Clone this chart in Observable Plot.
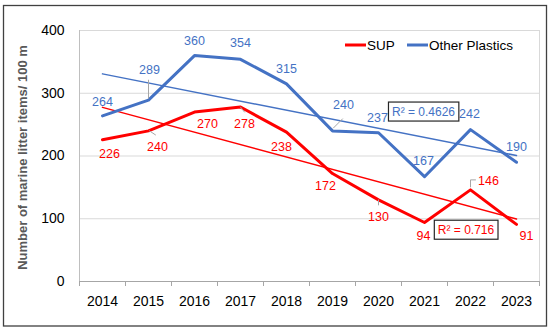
<!DOCTYPE html>
<html><head><meta charset="utf-8">
<script src="https://cdn.jsdelivr.net/npm/d3@7"></script>
<script src="https://cdn.jsdelivr.net/npm/@observablehq/plot@0.6"></script>
<style>
body{margin:0;background:#fff;}
#chart{position:relative;width:550px;height:331px;}
</style>
</head><body><div id="chart"></div>
<script>
// ---- data ----
const years = [2014, 2015, 2016, 2017, 2018, 2019, 2020, 2021, 2022, 2023];
const sup = [226, 240, 270, 278, 238, 172, 130, 94, 146, 91];
const otherPlastics = [264, 289, 360, 354, 315, 240, 237, 167, 242, 190];
const seriesNames = ["SUP", "Other Plastics"];
const seriesColors = ["#FF0000", "#4472C4"];
const yTicks = [0, 100, 200, 300, 400];
const r2Texts = ["R² = 0.716", "R² = 0.4626"];
const yLabel = "Number of marine litter items/ 100 m";

// ---- layout / styling (pixels) ----
const W = 550, H = 331;
const M = {top: 30, right: 11, bottom: 50, left: 79};
const pxPerYear = (W - M.left - M.right) / years.length;
const pxPerUnit = (H - M.top - M.bottom) / 400;
// label offsets [dx, dy] in px relative to each point
const supLabelOff = [[7,14],[9,16],[13,12],[4,17],[-5,15],[-7,12],[0,17],[-1,13],[18,-9],[10,12]];
const otherLabelOff = [[0,-14],[1,-30],[0,-15],[0,-16],[0,-15],[11,-26],[-1,-15],[-1,-16],[-1,-16],[0,-15]];
// leader lines: series index, point index, polyline offsets in px
const leaders = [
  {s: 1, i: 1, pts: [[0,-2],[0,-20]]},
  {s: 1, i: 5, pts: [[1,-3],[10,-12]]},
  {s: 0, i: 1, pts: [[1,0],[7,4]]},
  {s: 0, i: 3, pts: [[0,0],[4,5]]},
  {s: 0, i: 6, pts: [[0,0],[0,5]]},
  {s: 0, i: 8, pts: [[0,-3],[0,-10],[5,-10]]}
];
// R² annotation anchors: series index, point index, px offset from that point
const r2Anchor = [{s: 0, i: 8, off: [-4.5, 40]}, {s: 1, i: 7, off: [-1, -65]}];

const seriesValues = [sup, otherPlastics];
const rows = seriesValues.flatMap((vals, s) => vals.map((v, i) => ({
  year: years[i], value: v, series: seriesNames[s],
  off: (s === 0 ? supLabelOff : otherLabelOff)[i]
})));
const ox = (yr, px) => yr + px / pxPerYear;
const oy = (v, py) => v - py / pxPerUnit;

const leaderPts = leaders.flatMap((l, k) => l.pts.map(p => ({
  k, x: ox(years[l.i], p[0]), y: oy(seriesValues[l.s][l.i], p[1])
})));
const r2Rows = r2Anchor.map((a, k) => ({
  text: r2Texts[k], series: seriesNames[a.s],
  x: ox(years[a.i], a.off[0]), y: oy(seriesValues[a.s][a.i], a.off[1])
}));

const bounds = d3.range(years.length + 1).map(i => years[0] - 0.5 + i);

const font = "Liberation Sans, Arial, sans-serif";
const plot = Plot.plot({
  width: W, height: H,
  marginTop: M.top, marginRight: M.right, marginBottom: M.bottom, marginLeft: M.left,
  style: {fontFamily: font, color: "#000", background: "#fff", overflow: "visible"},
  x: {type: "linear", domain: [years[0] - 0.5, years[years.length - 1] + 0.5], axis: null},
  y: {domain: [0, 400], axis: null},
  color: {domain: seriesNames, range: seriesColors},
  marks: [
    Plot.gridY(yTicks, {stroke: "#d9d9d9", strokeOpacity: 1}),
    Plot.frame({stroke: "#d9d9d9"}),
    Plot.ruleX([bounds[0]], {stroke: "#bfbfbf"}),
    Plot.ruleY([0], {stroke: "#a6a6a6"}),
    Plot.axisX({ticks: bounds, tickSize: 5, tickFormat: () => "", stroke: "#a6a6a6", label: null}),
    Plot.axisX({ticks: years, tickSize: 0, tickPadding: 15, tickFormat: d => String(d), fontSize: 14, fill: "#000", label: null}),
    Plot.axisY({ticks: yTicks, tickSize: 0, tickPadding: 15, fontSize: 14, fill: "#000", label: null}),
    Plot.text([yLabel], {frameAnchor: "left", textAnchor: "middle", text: d => d, rotate: -90, dx: -57, dy: 1.5, fontWeight: "bold", fill: "#595959", fontSize: 13}),
    Plot.linearRegressionY(rows, {x: "year", y: "value", z: "series", stroke: "series", strokeWidth: 1.5, ci: 0}),
    Plot.line(rows, {x: "year", y: "value", z: "series", stroke: "series", strokeWidth: 3}),
    Plot.line(leaderPts, {x: "x", y: "y", z: "k", stroke: "#a6a6a6", strokeWidth: 1}),
    Plot.text(rows, {x: d => ox(d.year, d.off[0]), y: d => oy(d.value, d.off[1]), text: d => String(d.value), fill: "series", fontSize: 12.5}),
    Plot.text(r2Rows, {x: "x", y: "y", text: "text", fill: "series", fontSize: 12})
  ]
});
document.getElementById("chart").appendChild(plot);

const svg = d3.select(plot);
// boxes around R² annotations
svg.selectAll("text").filter(function() { return r2Texts.includes(this.textContent); }).each(function() {
  const b = this.getBBox();
  d3.select(this.parentNode).insert("rect", () => this)
    .attr("transform", this.getAttribute("transform"))
    .attr("x", b.x - 3.5).attr("y", b.y - 2.5)
    .attr("width", b.width + 7).attr("height", b.height + 5)
    .attr("fill", "#fff").attr("stroke", "#262626").attr("stroke-width", 1.2);
});
// legend inside the plot area
const lg = svg.append("g").attr("font-family", font).attr("font-size", 13.5).attr("text-anchor", "start");
[[345, 366, 367], [407, 428, 429]].forEach((p, k) => {
  lg.append("line").attr("x1", p[0]).attr("x2", p[1]).attr("y1", 45).attr("y2", 45)
    .attr("stroke", seriesColors[k]).attr("stroke-width", 3);
  lg.append("text").attr("x", p[2]).attr("y", 45).attr("dy", "0.35em").attr("fill", "#000").text(seriesNames[k]);
});
// outer chart border
svg.append("rect").attr("x", 3.5).attr("y", 5.5).attr("width", 543).attr("height", 320.5)
  .attr("fill", "none").attr("stroke", "#404040").attr("stroke-width", 1.3);
</script>
</body></html>
